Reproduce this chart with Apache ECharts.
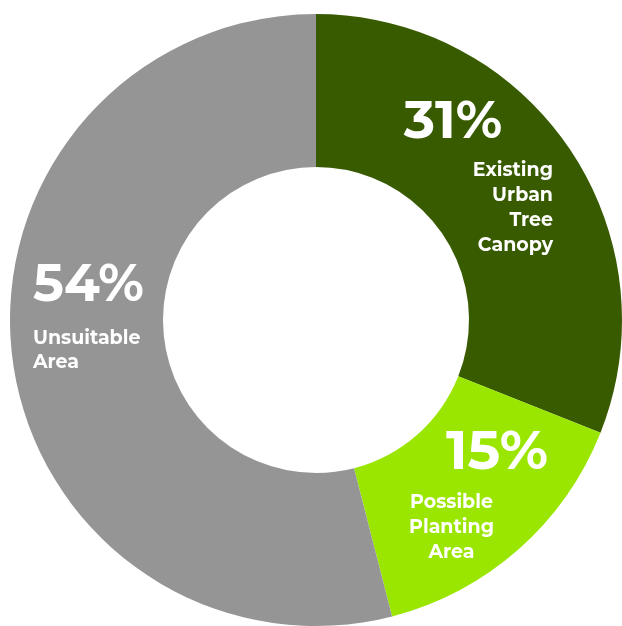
<!DOCTYPE html>
<html lang="en">
<head>
    <meta charset="utf-8">
    <style>
        html, body, #container {
          width: 100%;
          height: 100%;
          margin: 0;
          padding: 0;
          background: #fff;
        }
    </style>
</head>
<body>
<div id="container"></div>
<script type="text/javascript" src="https://fastly.jsdelivr.net/npm/echarts@6.0.0/dist/echarts.min.js"></script>
<script type="text/javascript">
  var categories = ['Existing\nUrban\nTree\nCanopy', 'Possible\nPlanting\nArea', 'Unsuitable\nArea'];
  var values = [31, 15, 54];
  var colors = ['#385b00', '#9ae600', '#959595'];

  // label boxes: anchor x, top y, box width, token aligns, line heights
  var labelPos = [
    { x: 553, y: 86, align: 'right', width: 200, pctAlign: 'center', nmAlign: 'right', pctSize: 53, pctLH: 72, nmLH: 25 },
    { x: 355, y: 416, align: 'left', width: 193, pctAlign: 'right', nmAlign: 'center', pctSize: 55, pctLH: 74, nmLH: 25 },
    { x: 33, y: 246, align: 'left', width: null, pctAlign: 'left', nmAlign: 'left', pctSize: 52, pctLH: 80, nmLH: 24 }
  ];

  var font = "Montserrat, 'Open Sans', sans-serif";

  var seriesData = values.map(function (v, i) {
    var p = labelPos[i];
    return {
      value: v,
      name: categories[i],
      itemStyle: { color: colors[i] },
      label: {
        show: true,
        width: p.width,
        formatter: function (params) {
          var lines = params.name.split('\n').map(function (s) { return '{nm|' + s + '}'; });
          return '{pct|' + params.value + '%}\n' + lines.join('\n');
        },
        rich: {
          pct: { fontSize: p.pctSize, fontWeight: 700, color: '#fff', fontFamily: font, lineHeight: p.pctLH, align: p.pctAlign },
          nm: { fontSize: 19, fontWeight: 700, color: '#fff', fontFamily: font, lineHeight: p.nmLH, align: p.nmAlign }
        }
      }
    };
  });

  var dom = document.getElementById('container');
  var myChart = echarts.init(dom, null, { renderer: 'canvas' });
  var option = {
    animation: false,
    series: [{
      type: 'pie',
      center: [316, 320],
      radius: [153, 306],
      startAngle: 90,
      clockwise: true,
      silent: true,
      label: { position: 'inside' },
      labelLine: { show: false },
      labelLayout: function (params) {
        var p = labelPos[params.dataIndex];
        return { x: p.x, y: p.y, align: p.align, verticalAlign: 'top' };
      },
      data: seriesData
    }]
  };
  myChart.setOption(option);
  window.addEventListener('resize', myChart.resize);
</script>
</body>
</html>
